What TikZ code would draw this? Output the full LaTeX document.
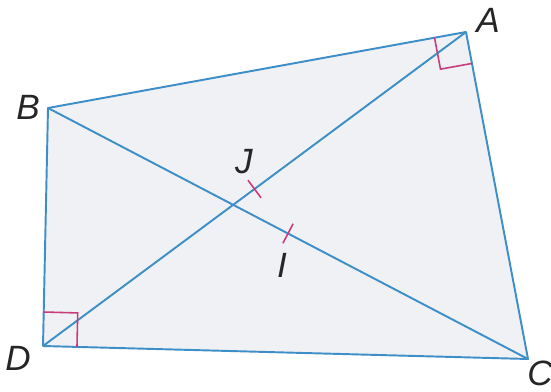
\documentclass[tikz,border=0pt]{standalone}
\usepackage{fontspec}
\setsansfont{Liberation Sans}
\usetikzlibrary{calc}
\definecolor{EdgeBlue}{RGB}{62,142,200}
\definecolor{MarkPink}{RGB}{200,60,125}
\definecolor{PaperGray}{RGB}{240,241,244}
\tikzset{
  edge/.style={draw=EdgeBlue, line width=1.1pt, line join=round},
  tickmark/.style={draw=MarkPink, line width=0.9pt},
  lbl/.style={font=\fontsize{20}{24}\selectfont\sffamily\itshape, text=black!85, inner sep=0pt}
}

\begin{document}
\begin{tikzpicture}[x=0.02cm, y=-0.02cm]
  \useasboundingbox (0,0) rectangle (551,392);
  \coordinate (A) at (466,32);
  \coordinate (B) at (48,108);
  \coordinate (C) at (528,359);
  \coordinate (D) at (43,346);
  % quadrilateral and diagonals
  \fill[PaperGray] (A) -- (B) -- (D) -- (C) -- cycle;
  \draw[edge] (A) -- (B) -- (D) -- (C) -- cycle;
  \draw[edge] (A) -- (D);
  \draw[edge] (B) -- (C);
  % right angles
  \coordinate (a1) at ($(A)!0.64cm!(B)$);
  \coordinate (a2) at ($(A)!0.64cm!(C)$);
  \draw[tickmark] (a1) -- ($(a1)+(a2)-(A)$) -- (a2);
  \coordinate (d1) at ($(D)!0.68cm!(B)$);
  \coordinate (d2) at ($(D)!0.68cm!(C)$);
  \draw[tickmark] (d1) -- ($(d1)+(d2)-(D)$) -- (d2);
  % midpoints
  \coordinate (J) at ($(A)!0.5!(D)$);
  \coordinate (I) at ($(B)!0.5!(C)$);
  \draw[tickmark] ($(J)!0.22cm!90:(A)$) -- ($(J)!0.22cm!-90:(A)$);
  \draw[tickmark] ($(I)!0.22cm!90:(B)$) -- ($(I)!0.22cm!-90:(B)$);
  % labels
  \node[lbl] (lA) at (488,20) {A};
  \node[lbl] (lB) at (28,107) {B};
  \node[lbl] (lC) at (540,373) {C};
  \node[lbl] (lD) at (18,358) {D};
  \node[lbl] (lJ) at (244,162) {J};
  \node[lbl] (lI) at (282,265) {I};
\end{tikzpicture}
\end{document}
